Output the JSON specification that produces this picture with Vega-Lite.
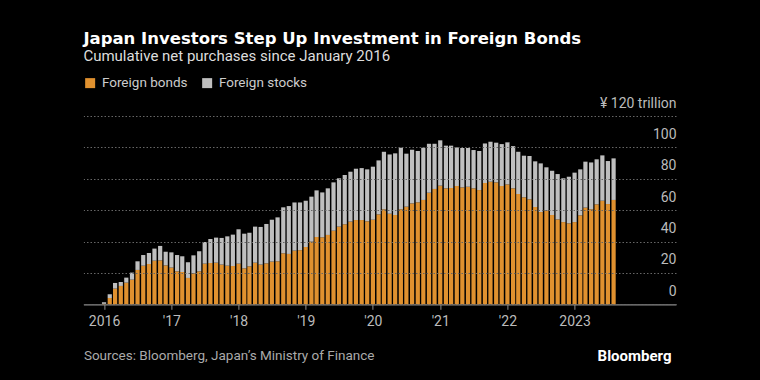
{
  "$schema": "https://vega.github.io/schema/vega-lite/v6.json",
  "width": 592.6,
  "height": 188.3,
  "autosize": "none",
  "padding": {"left": 83.4, "top": 116, "right": 84, "bottom": 75.7},
  "background": "#000000",
  "config": {
    "font": "Roboto",
    "view": {"stroke": null}
  },
  "title": {
    "text": "Japan Investors Step Up Investment in Foreign Bonds",
    "subtitle": "Cumulative net purchases since January 2016",
    "anchor": "start",
    "frame": "group",
    "font": "DejaVu Sans",
    "fontSize": 16.5,
    "fontWeight": "bold",
    "color": "#ffffff",
    "subtitleFont": "Roboto",
    "subtitleFontSize": 15,
    "subtitleColor": "#dddddd",
    "subtitlePadding": 2,
    "offset": 12
  },
  "data": {
    "values": [
      {"date": "2016-01-01", "Foreign bonds": 0.3, "Foreign stocks": 1.0},
      {"date": "2016-02-01", "Foreign bonds": 4.0, "Foreign stocks": 2.4},
      {"date": "2016-03-01", "Foreign bonds": 10.0, "Foreign stocks": 3.6},
      {"date": "2016-04-01", "Foreign bonds": 11.7, "Foreign stocks": 2.5},
      {"date": "2016-05-01", "Foreign bonds": 13.8, "Foreign stocks": 3.2},
      {"date": "2016-06-01", "Foreign bonds": 15.7, "Foreign stocks": 4.5},
      {"date": "2016-07-01", "Foreign bonds": 21.9, "Foreign stocks": 5.5},
      {"date": "2016-08-01", "Foreign bonds": 24.6, "Foreign stocks": 6.8},
      {"date": "2016-09-01", "Foreign bonds": 25.7, "Foreign stocks": 7.0},
      {"date": "2016-10-01", "Foreign bonds": 27.8, "Foreign stocks": 7.7},
      {"date": "2016-11-01", "Foreign bonds": 28.0, "Foreign stocks": 9.2},
      {"date": "2016-12-01", "Foreign bonds": 24.8, "Foreign stocks": 8.7},
      {"date": "2017-01-01", "Foreign bonds": 23.4, "Foreign stocks": 9.7},
      {"date": "2017-02-01", "Foreign bonds": 21.0, "Foreign stocks": 10.4},
      {"date": "2017-03-01", "Foreign bonds": 20.6, "Foreign stocks": 10.0},
      {"date": "2017-04-01", "Foreign bonds": 16.8, "Foreign stocks": 10.0},
      {"date": "2017-05-01", "Foreign bonds": 19.7, "Foreign stocks": 11.5},
      {"date": "2017-06-01", "Foreign bonds": 21.0, "Foreign stocks": 12.8},
      {"date": "2017-07-01", "Foreign bonds": 25.9, "Foreign stocks": 13.8},
      {"date": "2017-08-01", "Foreign bonds": 26.3, "Foreign stocks": 15.3},
      {"date": "2017-09-01", "Foreign bonds": 26.5, "Foreign stocks": 16.0},
      {"date": "2017-10-01", "Foreign bonds": 25.3, "Foreign stocks": 17.0},
      {"date": "2017-11-01", "Foreign bonds": 24.6, "Foreign stocks": 18.7},
      {"date": "2017-12-01", "Foreign bonds": 24.4, "Foreign stocks": 20.0},
      {"date": "2018-01-01", "Foreign bonds": 25.9, "Foreign stocks": 21.9},
      {"date": "2018-02-01", "Foreign bonds": 22.9, "Foreign stocks": 22.1},
      {"date": "2018-03-01", "Foreign bonds": 24.2, "Foreign stocks": 21.4},
      {"date": "2018-04-01", "Foreign bonds": 26.5, "Foreign stocks": 23.0},
      {"date": "2018-05-01", "Foreign bonds": 25.3, "Foreign stocks": 24.0},
      {"date": "2018-06-01", "Foreign bonds": 26.1, "Foreign stocks": 25.1},
      {"date": "2018-07-01", "Foreign bonds": 27.2, "Foreign stocks": 26.7},
      {"date": "2018-08-01", "Foreign bonds": 27.4, "Foreign stocks": 28.0},
      {"date": "2018-09-01", "Foreign bonds": 32.5, "Foreign stocks": 29.3},
      {"date": "2018-10-01", "Foreign bonds": 32.1, "Foreign stocks": 30.5},
      {"date": "2018-11-01", "Foreign bonds": 34.2, "Foreign stocks": 30.7},
      {"date": "2018-12-01", "Foreign bonds": 34.5, "Foreign stocks": 30.4},
      {"date": "2019-01-01", "Foreign bonds": 36.5, "Foreign stocks": 29.5},
      {"date": "2019-02-01", "Foreign bonds": 39.9, "Foreign stocks": 28.7},
      {"date": "2019-03-01", "Foreign bonds": 42.9, "Foreign stocks": 29.7},
      {"date": "2019-04-01", "Foreign bonds": 42.7, "Foreign stocks": 28.6},
      {"date": "2019-05-01", "Foreign bonds": 44.2, "Foreign stocks": 29.7},
      {"date": "2019-06-01", "Foreign bonds": 46.9, "Foreign stocks": 30.8},
      {"date": "2019-07-01", "Foreign bonds": 49.5, "Foreign stocks": 30.8},
      {"date": "2019-08-01", "Foreign bonds": 51.0, "Foreign stocks": 31.4},
      {"date": "2019-09-01", "Foreign bonds": 52.7, "Foreign stocks": 31.8},
      {"date": "2019-10-01", "Foreign bonds": 53.7, "Foreign stocks": 32.7},
      {"date": "2019-11-01", "Foreign bonds": 53.7, "Foreign stocks": 33.1},
      {"date": "2019-12-01", "Foreign bonds": 52.9, "Foreign stocks": 33.1},
      {"date": "2020-01-01", "Foreign bonds": 53.9, "Foreign stocks": 33.8},
      {"date": "2020-02-01", "Foreign bonds": 57.3, "Foreign stocks": 34.4},
      {"date": "2020-03-01", "Foreign bonds": 60.5, "Foreign stocks": 36.7},
      {"date": "2020-04-01", "Foreign bonds": 57.7, "Foreign stocks": 37.8},
      {"date": "2020-05-01", "Foreign bonds": 56.9, "Foreign stocks": 39.3},
      {"date": "2020-06-01", "Foreign bonds": 60.5, "Foreign stocks": 39.3},
      {"date": "2020-07-01", "Foreign bonds": 62.2, "Foreign stocks": 33.8},
      {"date": "2020-08-01", "Foreign bonds": 64.3, "Foreign stocks": 34.2},
      {"date": "2020-09-01", "Foreign bonds": 65.0, "Foreign stocks": 32.7},
      {"date": "2020-10-01", "Foreign bonds": 66.5, "Foreign stocks": 33.3},
      {"date": "2020-11-01", "Foreign bonds": 71.1, "Foreign stocks": 31.2},
      {"date": "2020-12-01", "Foreign bonds": 73.5, "Foreign stocks": 28.8},
      {"date": "2021-01-01", "Foreign bonds": 75.6, "Foreign stocks": 28.9},
      {"date": "2021-02-01", "Foreign bonds": 73.9, "Foreign stocks": 27.2},
      {"date": "2021-03-01", "Foreign bonds": 74.1, "Foreign stocks": 27.0},
      {"date": "2021-04-01", "Foreign bonds": 75.4, "Foreign stocks": 24.6},
      {"date": "2021-05-01", "Foreign bonds": 74.5, "Foreign stocks": 25.1},
      {"date": "2021-06-01", "Foreign bonds": 74.9, "Foreign stocks": 24.7},
      {"date": "2021-07-01", "Foreign bonds": 73.9, "Foreign stocks": 24.4},
      {"date": "2021-08-01", "Foreign bonds": 72.8, "Foreign stocks": 24.9},
      {"date": "2021-09-01", "Foreign bonds": 77.3, "Foreign stocks": 25.2},
      {"date": "2021-10-01", "Foreign bonds": 78.1, "Foreign stocks": 25.5},
      {"date": "2021-11-01", "Foreign bonds": 77.7, "Foreign stocks": 25.3},
      {"date": "2021-12-01", "Foreign bonds": 75.4, "Foreign stocks": 26.7},
      {"date": "2022-01-01", "Foreign bonds": 76.4, "Foreign stocks": 26.8},
      {"date": "2022-02-01", "Foreign bonds": 73.9, "Foreign stocks": 26.9},
      {"date": "2022-03-01", "Foreign bonds": 70.3, "Foreign stocks": 26.9},
      {"date": "2022-04-01", "Foreign bonds": 68.2, "Foreign stocks": 26.5},
      {"date": "2022-05-01", "Foreign bonds": 66.9, "Foreign stocks": 27.6},
      {"date": "2022-06-01", "Foreign bonds": 62.0, "Foreign stocks": 29.1},
      {"date": "2022-07-01", "Foreign bonds": 58.8, "Foreign stocks": 31.0},
      {"date": "2022-08-01", "Foreign bonds": 59.7, "Foreign stocks": 27.6},
      {"date": "2022-09-01", "Foreign bonds": 56.9, "Foreign stocks": 28.2},
      {"date": "2022-10-01", "Foreign bonds": 54.1, "Foreign stocks": 28.9},
      {"date": "2022-11-01", "Foreign bonds": 52.4, "Foreign stocks": 27.9},
      {"date": "2022-12-01", "Foreign bonds": 51.6, "Foreign stocks": 29.7},
      {"date": "2023-01-01", "Foreign bonds": 52.4, "Foreign stocks": 31.5},
      {"date": "2023-02-01", "Foreign bonds": 56.7, "Foreign stocks": 29.3},
      {"date": "2023-03-01", "Foreign bonds": 61.6, "Foreign stocks": 29.3},
      {"date": "2023-04-01", "Foreign bonds": 60.5, "Foreign stocks": 29.9},
      {"date": "2023-05-01", "Foreign bonds": 63.7, "Foreign stocks": 28.7},
      {"date": "2023-06-01", "Foreign bonds": 66.0, "Foreign stocks": 28.9},
      {"date": "2023-07-01", "Foreign bonds": 63.9, "Foreign stocks": 27.4},
      {"date": "2023-08-01", "Foreign bonds": 66.5, "Foreign stocks": 26.5}
    ]
  },
  "transform": [
    {"fold": ["Foreign bonds", "Foreign stocks"], "as": ["type", "value"]}
  ],
  "mark": {"type": "bar", "width": 4.2},
  "encoding": {
    "x": {
      "field": "date",
      "type": "temporal",
      "scale": {
        "type": "utc",
        "domain": [
          {"year": 2015, "month": 10, "date": 8, "utc": true},
          {"year": 2024, "month": 6, "date": 8, "utc": true}
        ]
      },
      "axis": {
        "values": [1451606400000, 1483228800000, 1514764800000, 1546300800000, 1577836800000, 1609459200000, 1640995200000, 1672531200000],
        "labelExpr": "(utcyear(datum.value) == 2016 || utcyear(datum.value) == 2023) ? '' + utcyear(datum.value) : \"'\" + substring('' + utcyear(datum.value), 2)",
        "grid": false,
        "domainColor": "#8c8c8c",
        "domainWidth": 1.2,
        "tickColor": "#8c8c8c",
        "tickSize": 5,
        "labelColor": "#bbbbbb",
        "labelFontSize": 14,
        "labelPadding": 5,
        "labelFlush": false,
        "title": "Sources: Bloomberg, Japan’s Ministry of Finance",
        "titleX": 0,
        "titleY": 51,
        "titleAlign": "left",
        "titleAnchor": "start",
        "titleBaseline": "middle",
        "titleFontWeight": "normal",
        "titleFontSize": 13.5,
        "titleColor": "#aaaaaa"
      }
    },
    "y": {
      "field": "value",
      "type": "quantitative",
      "stack": "zero",
      "scale": {"domain": [0, 120], "nice": false},
      "axis": {
        "orient": "right",
        "values": [0, 20, 40, 60, 80, 100, 120],
        "labelExpr": "datum.value == 120 ? '¥ 120 trillion' : datum.label",
        "grid": true,
        "gridColor": "#666666",
        "gridDash": [1.5, 2],
        "gridWidth": 1,
        "domain": false,
        "ticks": false,
        "labelAlign": "right",
        "labelBaseline": "alphabetic",
        "labelPadding": 0,
        "labelOffset": -9,
        "labelFlush": false,
        "labelBound": false,
        "labelOverlap": false,
        "labelColor": "#bbbbbb",
        "labelFontSize": 14,
        "zindex": 1,
        "title": "Bloomberg",
        "titleAngle": 0,
        "titleX": -5,
        "titleY": 239,
        "titleAlign": "right",
        "titleBaseline": "middle",
        "titleFontWeight": "bold",
        "titleFontSize": 15,
        "titleColor": "#ffffff"
      }
    },
    "color": {
      "field": "type",
      "type": "nominal",
      "scale": {"domain": ["Foreign bonds", "Foreign stocks"], "range": ["#e0912f", "#bfbfbf"]},
      "legend": {
        "title": null,
        "orient": "none",
        "legendX": 0,
        "legendY": -40,
        "direction": "horizontal",
        "symbolType": "square",
        "symbolSize": 100,
        "symbolStrokeWidth": 0,
        "symbolOpacity": 1,
        "labelFontSize": 13.5,
        "labelColor": "#cccccc",
        "columnPadding": 12,
        "labelOffset": 5
      }
    },
    "order": {"field": "type", "sort": "ascending"}
  }
}
